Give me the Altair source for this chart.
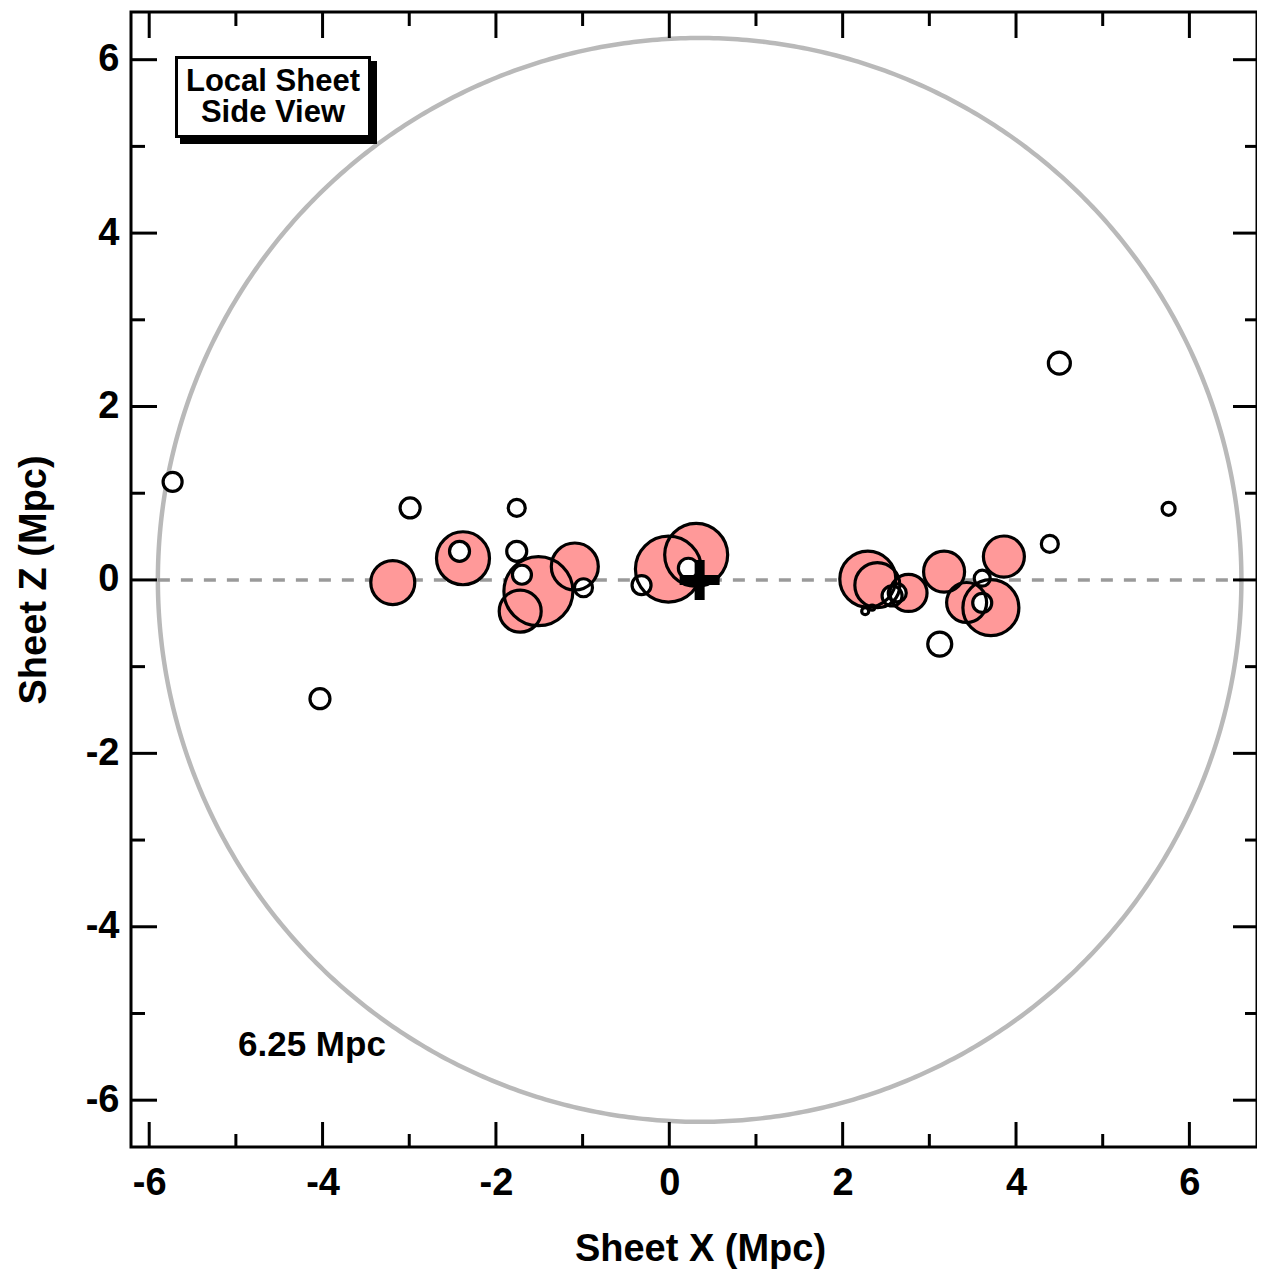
import numpy as np
import pandas as pd
import altair as alt

# ---------------- data ----------------
x_domain = [-6.21, 6.78]
z_domain = [-6.54, 6.55]

# filled (pink) galaxies
pink_x = [-3.19, -2.38, -1.51, -1.72, -1.09, -0.01, 0.31, 2.29, 2.40, 2.76, 3.17, 3.43, 3.71, 3.86]
pink_z = [-0.03, 0.25, -0.13, -0.36, 0.155, 0.125, 0.29, 0.01, -0.06, -0.15, 0.095, -0.26, -0.32, 0.27]
pink_d = [44, 53, 69, 42, 47, 66, 63, 56, 45, 37, 41, 40, 56, 41]

# open (white) galaxies
open_x = [-5.73, -2.99, -4.03, -1.76, -2.42, -1.76, -1.70, -0.99, -0.32, 0.22,
          4.50, 4.39, 5.76, 3.12, 3.61, 3.61, 2.57, 2.63, 2.26, 2.34]
open_z = [1.13, 0.83, -1.37, 0.83, 0.33, 0.33, 0.06, -0.09, -0.06, 0.135,
          2.50, 0.415, 0.82, -0.74, 0.02, -0.265, -0.185, -0.15, -0.36, -0.32]
open_d = [19, 20, 20, 17, 20, 20, 19, 18, 19, 20,
          22, 17, 13, 24, 16, 19, 20, 18, 7, 5]

center_x, center_z, sphere_r = 0.35, 0.0, 6.25

x_major = [-6, -4, -2, 0, 2, 4, 6]
x_minor = [-5, -3, -1, 1, 3, 5]
z_major = [-6, -4, -2, 0, 2, 4, 6]
z_minor = [-5, -3, -1, 1, 3, 5]

W, H = 1126, 1135
FONT = "Liberation Sans"

# ---------------- frames ----------------
pink = pd.DataFrame({"x": pink_x, "z": pink_z, "s": np.array(pink_d, float) ** 2})
opn = pd.DataFrame({"x": open_x, "z": open_z, "s": np.array(open_d, float) ** 2})

t = np.linspace(0, 2 * np.pi, 721)
ring = pd.DataFrame({"x": center_x + sphere_r * np.cos(t),
                     "z": center_z + sphere_r * np.sin(t),
                     "o": np.arange(len(t))})
dash = pd.DataFrame({"x": [center_x - sphere_r], "x2": [center_x + sphere_r], "z": [center_z]})
cen = pd.DataFrame({"x": [center_x], "z": [center_z]})
one = pd.DataFrame({"a": [0]})

xaxis = alt.Axis(values=x_major, labelExpr="'' + datum.value", ticks=False, domain=False,
                 grid=False, labelFont=FONT, labelFontSize=38, labelFontWeight="bold",
                 labelColor="black", labelPadding=17, title="Sheet X (Mpc)",
                 titleFont=FONT, titleFontSize=38, titleFontWeight="bold", titleColor="black",
                 titleBaseline="alphabetic", titleY=113, titleX=569,
                 titleAlign="center")
yaxis = alt.Axis(values=z_major, labelExpr="'' + datum.value", ticks=False, domain=False,
                 grid=False, labelFont=FONT, labelFontSize=38, labelFontWeight="bold",
                 labelColor="black", labelPadding=12, title="Sheet Z (Mpc)",
                 titleFont=FONT, titleFontSize=38, titleFontWeight="bold", titleColor="black",
                 titleAngle=270, titleBaseline="alphabetic", titleX=-86, titleY=H / 2,
                 titleAlign="center")
xs = alt.Scale(domain=x_domain, nice=False, zero=False)
ys = alt.Scale(domain=z_domain, nice=False, zero=False)


def X(f="x"):
    return alt.X(f"{f}:Q", scale=xs, axis=xaxis)


def Y(f="z"):
    return alt.Y(f"{f}:Q", scale=ys, axis=yaxis)


layers = []
# gray sphere outline
layers.append(alt.Chart(ring).mark_line(color="#b9b9b9", strokeWidth=4.5).encode(
    x=X(), y=Y(), order="o:Q"))
# dashed mid-plane line
layers.append(alt.Chart(dash).mark_rule(color="#9a9a9a", strokeWidth=3.5, strokeDash=[12, 11]).encode(
    x=X(), x2="x2:Q", y=Y()))
# fills
layers.append(alt.Chart(pink).mark_point(shape="circle", filled=True, fill="#ff9999",
                                          strokeWidth=0, opacity=1).encode(
    x=X(), y=Y(), size=alt.Size("s:Q", scale=None, legend=None)))
layers.append(alt.Chart(opn).mark_point(shape="circle", filled=True, fill="white",
                                         strokeWidth=0, opacity=1).encode(
    x=X(), y=Y(), size=alt.Size("s:Q", scale=None, legend=None)))
# outlines
layers.append(alt.Chart(pink).mark_point(shape="circle", filled=False, color="black",
                                          strokeWidth=3.2, opacity=1).encode(
    x=X(), y=Y(), size=alt.Size("s:Q", scale=None, legend=None)))
layers.append(alt.Chart(opn).mark_point(shape="circle", filled=False, color="black",
                                         strokeWidth=3.2, opacity=1).encode(
    x=X(), y=Y(), size=alt.Size("s:Q", scale=None, legend=None)))
# plus at center
plus_path = "M-1,-0.25H-0.25V-1H0.25V-0.25H1V0.25H0.25V1H-0.25V0.25H-1Z"
layers.append(alt.Chart(cen).mark_point(shape=plus_path, filled=True, color="black",
                                         size=1600, strokeWidth=0, opacity=1).encode(
    x=X(), y=Y()))

# inward ticks
tick = dict(color="black", strokeWidth=3)
for vals, L in ((x_major, 25), (x_minor, 13)):
    d = pd.DataFrame({"x": vals})
    layers.append(alt.Chart(d).mark_rule(**tick).encode(x=X(), y=alt.value(H), y2=alt.value(H - L)))
    layers.append(alt.Chart(d).mark_rule(**tick).encode(x=X(), y=alt.value(0), y2=alt.value(L + 1)))
for vals, L in ((z_major, 26), (z_minor, 14)):
    d = pd.DataFrame({"z": vals})
    layers.append(alt.Chart(d).mark_rule(**tick).encode(y=Y(), x=alt.value(0), x2=alt.value(L)))
    layers.append(alt.Chart(d).mark_rule(**tick).encode(y=Y(), x=alt.value(W), x2=alt.value(W - L + 2)))

# label box with shadow
layers.append(alt.Chart(one).mark_rect(fill="black").encode(
    x=alt.value(49), x2=alt.value(246), y=alt.value(49), y2=alt.value(132)))
layers.append(alt.Chart(one).mark_rect(fill="white", stroke="black", strokeWidth=3).encode(
    x=alt.value(45.5), x2=alt.value(238.5), y=alt.value(45.5), y2=alt.value(124.5)))
layers.append(alt.Chart(one).mark_text(text="Local Sheet", font=FONT, fontSize=31, fontWeight="bold",
                                       color="black", align="center", baseline="alphabetic").encode(
    x=alt.value(142), y=alt.value(79)))
layers.append(alt.Chart(one).mark_text(text="Side View", font=FONT, fontSize=31, fontWeight="bold",
                                       color="black", align="center", baseline="alphabetic").encode(
    x=alt.value(142), y=alt.value(110)))
layers.append(alt.Chart(one).mark_text(text="6.25 Mpc", font=FONT, fontSize=35, fontWeight="bold",
                                       color="black", align="left", baseline="alphabetic").encode(
    x=alt.value(107), y=alt.value(1044)))

chart = alt.layer(*layers).properties(
    width=W, height=H,
    padding={"left": 123, "top": 4, "right": 0, "bottom": 123},
    autosize=alt.AutoSizeParams(type="none"),
).configure_view(stroke="black", strokeWidth=3)

chart.save("out.html", embed_options={"renderer": "svg", "actions": False})
